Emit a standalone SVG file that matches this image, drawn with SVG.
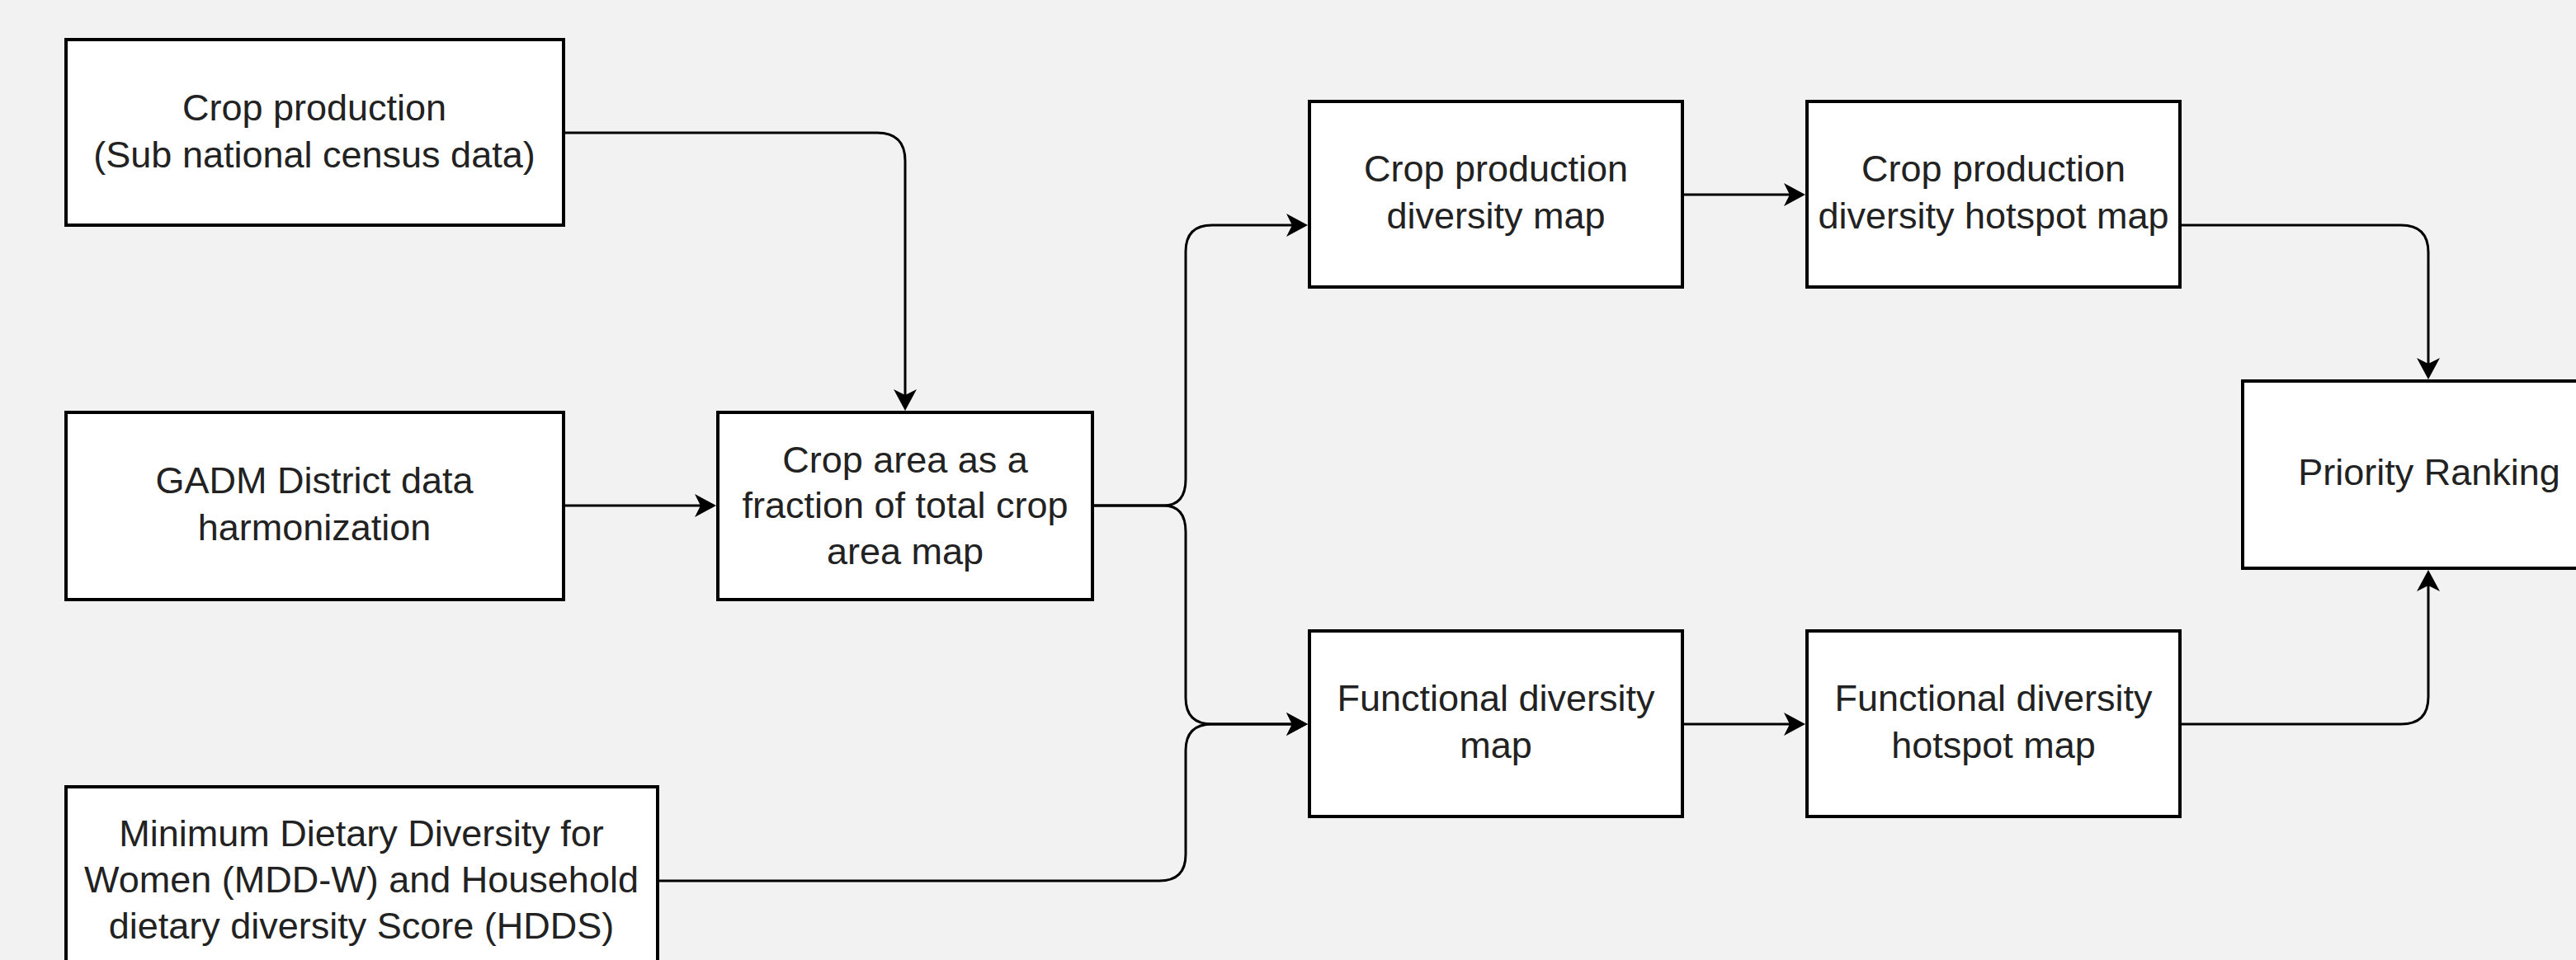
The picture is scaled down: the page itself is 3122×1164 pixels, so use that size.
<svg xmlns="http://www.w3.org/2000/svg" width="3122" height="1164" viewBox="0 0 3122 1164">
<style>
.box{fill:#ffffff;stroke:#000000;stroke-width:4}
.lbl{font-family:"Liberation Sans",Arial,sans-serif;font-size:45px;fill:#222222;text-anchor:middle}
.edge{fill:none;stroke:#000000;stroke-width:3}
</style>
<defs>
<marker id="arr" markerUnits="userSpaceOnUse" markerWidth="30" markerHeight="30" viewBox="0 0 30 30" refX="18" refY="15" orient="auto">
<path d="M0,1 L26,15 L0,29 L7,15 Z" fill="#000000"/>
</marker>
</defs>
<rect x="0" y="0" width="3122" height="1164" fill="#f2f2f2"/>
<g id="connectors">
<path class="edge" d="M683,161 H1063 Q1097,161 1097,195 V490" marker-end="url(#arr)"/>
<path class="edge" d="M683,613 H860" marker-end="url(#arr)"/>
<path class="edge" d="M1324,613 H1410 Q1437,613 1437,581 V305 Q1437,273 1469,273 H1577" marker-end="url(#arr)"/>
<path class="edge" d="M1324,613 H1410 Q1437,613 1437,645 V846 Q1437,878 1469,878 H1577" marker-end="url(#arr)"/>
<path class="edge" d="M797,1068 H1405 Q1437,1068 1437,1036 V910 Q1437,878 1469,878 H1577" marker-end="url(#arr)"/>
<path class="edge" d="M2039,236 H2180" marker-end="url(#arr)"/>
<path class="edge" d="M2039,878 H2180" marker-end="url(#arr)"/>
<path class="edge" d="M2642,273 H2910 Q2943,273 2943,306 V452" marker-end="url(#arr)"/>
<path class="edge" d="M2642,878 H2910 Q2943,878 2943,845 V699" marker-end="url(#arr)"/>
</g>
<g id="node-crop-production">
<rect class="box" x="80" y="48" width="603" height="225"/>
<text class="lbl" x="381" y="146">Crop production</text>
<text class="lbl" x="381" y="203">(Sub national census data)</text>
</g>
<g id="node-gadm">
<rect class="box" x="80" y="500" width="603" height="227"/>
<text class="lbl" x="381" y="598">GADM District data</text>
<text class="lbl" x="381" y="655">harmonization</text>
</g>
<g id="node-mdd">
<rect class="box" x="80" y="954" width="717" height="228"/>
<text class="lbl" x="438" y="1026">Minimum Dietary Diversity for</text>
<text class="lbl" x="438" y="1082">Women (MDD-W) and Household</text>
<text class="lbl" x="438" y="1138">dietary diversity Score (HDDS)</text>
</g>
<g id="node-crop-area">
<rect class="box" x="870" y="500" width="454" height="227"/>
<text class="lbl" x="1097" y="573">Crop area as a</text>
<text class="lbl" x="1097" y="628">fraction of total crop</text>
<text class="lbl" x="1097" y="684">area map</text>
</g>
<g id="node-cp-diversity">
<rect class="box" x="1587" y="123" width="452" height="225"/>
<text class="lbl" x="1813" y="220">Crop production</text>
<text class="lbl" x="1813" y="277">diversity map</text>
</g>
<g id="node-cp-hotspot">
<rect class="box" x="2190" y="123" width="452" height="225"/>
<text class="lbl" x="2416" y="220">Crop production</text>
<text class="lbl" x="2416" y="277">diversity hotspot map</text>
</g>
<g id="node-priority">
<rect class="box" x="2718" y="462" width="452" height="227"/>
<text class="lbl" x="2944" y="588">Priority Ranking</text>
</g>
<g id="node-fd-map">
<rect class="box" x="1587" y="765" width="452" height="225"/>
<text class="lbl" x="1813" y="862">Functional diversity</text>
<text class="lbl" x="1813" y="919">map</text>
</g>
<g id="node-fd-hotspot">
<rect class="box" x="2190" y="765" width="452" height="225"/>
<text class="lbl" x="2416" y="862">Functional diversity</text>
<text class="lbl" x="2416" y="919">hotspot map</text>
</g>
</svg>
